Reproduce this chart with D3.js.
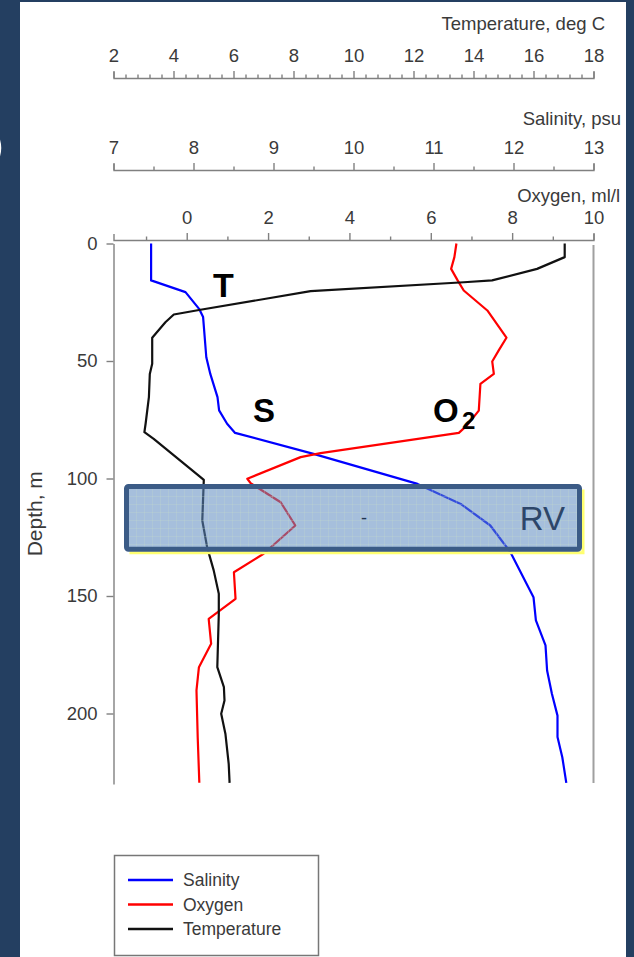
<!DOCTYPE html>
<html><head><meta charset="utf-8">
<script src="https://cdn.jsdelivr.net/npm/d3@7"></script>
<style>
html,body{margin:0;padding:0;background:#243f61;overflow:hidden;}
svg{display:block;}
text{font-family:"Liberation Sans",Arial,sans-serif;}
</style></head><body>
<svg id="chart" width="634" height="957"></svg>
<script>
// ---- data ----
const salDepth  = [0, 15.7, 20.7, 27.8, 31.3, 48.4, 55.5, 65.4, 71, 76.7, 80.6, 89.5, 102.3, 110.8, 120, 131.3, 150.5, 160.4, 171, 181.7, 191.6, 200.9, 210, 218.6, 229.5];
const salValues = [7.47, 7.47, 7.9, 8.07, 8.12, 8.16, 8.21, 8.30, 8.32, 8.42, 8.52, 9.50, 10.80, 11.34, 11.71, 11.96, 12.25, 12.28, 12.40, 12.42, 12.48, 12.55, 12.55, 12.61, 12.66];

const tempDepth  = [0, 5.8, 10.8, 15.7, 16.5, 20.3, 28.2, 30.2, 33.5, 40.1, 51.2, 55.5, 65.4, 76.7, 80.3, 83.1, 99.4, 100.6, 117.9, 129.2, 139.1, 149, 157.6, 180.3, 188.8, 194.5, 200.1, 208.6, 221.4, 229.5];
const tempValues = [17.04, 17.04, 16.12, 14.62, 13.68, 8.57, 4.9, 4.01, 3.73, 3.29, 3.29, 3.21, 3.18, 3.07, 3.03, 3.34, 4.9, 5.01, 4.96, 5.12, 5.34, 5.51, 5.51, 5.46, 5.68, 5.70, 5.59, 5.73, 5.84, 5.87];

const oxyDepth  = [0, 5.8, 10.8, 15.7, 20, 28.5, 40.1, 45.5, 50.2, 55.5, 59.7, 71.1, 77.4, 80.6, 89.2, 90.9, 100.1, 102, 110.1, 120, 132, 139.9, 151.2, 159.7, 170.3, 180.3, 190.2, 210.1, 229.5];
const oxyValues = [6.63, 6.58, 6.50, 6.66, 6.81, 7.39, 7.86, 7.67, 7.51, 7.55, 7.22, 7.18, 6.89, 6.69, 3.29, 2.8, 1.49, 1.57, 2.31, 2.67, 1.89, 1.16, 1.20, 0.54, 0.60, 0.30, 0.24, 0.27, 0.31];

const tempTicks  = [2, 4, 6, 8, 10, 12, 14, 16, 18];
const salTicks   = [7, 8, 9, 10, 11, 12, 13];
const oxyTicks   = [0, 2, 4, 6, 8, 10];
const depthTicks = [0, 50, 100, 150, 200];
const tempDomain = [2, 18];
const salDomain  = [7, 13];
const oxyDomain  = [-1.8, 10];
const depthDomain = [0, 230];
const seriesNames = ["Salinity", "Oxygen", "Temperature"];
const seriesColors = ["#0000ff", "#ff0000", "#111111"];
const rvDepth = [103.4, 130.1];

// ---- layout ----
const svg = d3.select("#chart");
const plotL = 113.5, plotR = 593.5;
const xT = d3.scaleLinear().domain(tempDomain).range([plotL, plotR]);
const xS = d3.scaleLinear().domain(salDomain).range([plotL, plotR]);
const xO = d3.scaleLinear().domain(oxyDomain).range([plotL, plotR]);
const y  = d3.scaleLinear().domain(depthDomain).range([243.5, 784]);
const axisColor = "#808080", labelColor = "#3a3a3a";
const fontTick = "18.5px";
const fmt = d3.format("~g");

// white panel
svg.append("rect").attr("x", 20).attr("y", 2).attr("width", 606).attr("height", 955).attr("fill", "#ffffff");
// sliver of a bracket glyph on the dark background (drawn as a shape)
svg.append("path").attr("d", "M-3,135 Q3,148 -3,161").attr("fill", "none")
  .attr("stroke", "#ffffff").attr("stroke-width", 2.5);

function topAxis(scale, yPos, majors, minors, title, titleX, titleY) {
  const g = svg.append("g").attr("transform", `translate(0,${yPos})`).attr("color", axisColor);
  g.call(d3.axisTop(scale).tickValues(majors).tickFormat(fmt).tickSize(7).tickSizeOuter(6).tickPadding(9.5));
  const gm = svg.append("g").attr("transform", `translate(0,${yPos})`).attr("color", axisColor);
  gm.call(d3.axisTop(scale).tickValues(minors).tickSize(3.5).tickFormat(""));
  gm.select(".domain").remove();
  svg.selectAll("g .domain, g .tick line").attr("stroke-width", 1.4);
  g.selectAll(".tick text").attr("fill", labelColor).style("font-size", fontTick)
    .style("font-family", '"Liberation Sans",Arial,sans-serif');
  svg.append("text").attr("x", titleX).attr("y", titleY).attr("text-anchor", "end")
    .attr("fill", labelColor).style("font-size", fontTick).text(title);
}
const tempMinor = d3.range(2, 18.001, 0.4).filter(v => Math.abs(v / 2 - Math.round(v / 2)) > 1e-6);
const salMinor = d3.range(7.5, 13, 1);
const oxyMinor = d3.range(-1, 10, 2);
topAxis(xT, 78, tempTicks, tempMinor, "Temperature, deg C", 605, 30);
topAxis(xS, 170, salTicks, salMinor, "Salinity, psu", 621, 125);
topAxis(xO, 240, oxyTicks, oxyMinor, "Oxygen, ml/l", 620, 202);

// depth axis
const gy = svg.append("g").attr("transform", `translate(${plotL},0)`).attr("color", axisColor);
gy.call(d3.axisLeft(y).tickValues(depthTicks).tickFormat(fmt).tickSize(7).tickSizeOuter(0).tickPadding(9));
gy.selectAll(".domain, .tick line").attr("stroke-width", 1.4);
gy.selectAll(".tick text").attr("fill", labelColor).style("font-size", fontTick)
  .style("font-family", '"Liberation Sans",Arial,sans-serif');
svg.append("text").attr("transform", `translate(42,${(y(0) + y(230)) / 2}) rotate(-90)`)
  .attr("text-anchor", "middle").attr("fill", labelColor).style("font-size", "21px").text("Depth, m");
// right frame
svg.append("line").attr("x1", plotR).attr("x2", plotR).attr("y1", y(0) + 1.5).attr("y2", y(230) - 1)
  .attr("stroke", "#a0a0a0").attr("stroke-width", 2);

// series
const lineGen = d3.line().x(d => d.x).y(d => d.y);
function drawSeries(depths, values, xs, color) {
  const pts = depths.map((d, i) => ({ x: xs(values[i]), y: y(d) }));
  svg.append("path").attr("d", lineGen(pts)).attr("fill", "none")
    .attr("stroke", color).attr("stroke-width", 2.2).attr("stroke-linejoin", "round");
}
drawSeries(salDepth, salValues, xS, seriesColors[0]);
drawSeries(oxyDepth, oxyValues, xO, seriesColors[1]);
drawSeries(tempDepth, tempValues, xT, seriesColors[2]);

// RV box
const defs = svg.append("defs");
const pat = defs.append("pattern").attr("id", "grid").attr("width", 8).attr("height", 8)
  .attr("patternUnits", "userSpaceOnUse");
pat.append("path").attr("d", "M8 0 L0 0 0 8").attr("fill", "none")
  .attr("stroke", "#c8dcc8").attr("stroke-width", 0.9).attr("opacity", 0.55);
const bx0 = plotL + 13, bx1 = plotR - 14, by0 = y(rvDepth[0]), by1 = y(rvDepth[1]);
svg.append("path").attr("d", `M${bx0 + 3},${by1 + 3.5} L${bx1 + 3.5},${by1 + 3.5} L${bx1 + 3.5},${by0 + 3}`)
  .attr("fill", "none").attr("stroke", "#ffff70").attr("stroke-width", 3);
svg.append("rect").attr("x", bx0).attr("y", by0).attr("width", bx1 - bx0).attr("height", by1 - by0)
  .attr("fill", "#5d8bbf").attr("fill-opacity", 0.55);
svg.append("rect").attr("x", bx0).attr("y", by0).attr("width", bx1 - bx0).attr("height", by1 - by0)
  .attr("fill", "url(#grid)");
svg.append("rect").attr("x", bx0).attr("y", by0).attr("width", bx1 - bx0).attr("height", by1 - by0)
  .attr("rx", 2).attr("fill", "none").attr("stroke", "#3b5b86").attr("stroke-width", 5);
svg.append("text").attr("x", bx1 - 14.5).attr("y", (by0 + by1) / 2 + 12.5).attr("text-anchor", "end")
  .attr("fill", "#2d4669").style("font-size", "33px").text("RV");
svg.append("text").attr("x", 364).attr("y", (by0 + by1) / 2 + 6).attr("text-anchor", "middle")
  .attr("fill", "#1f3550").style("font-size", "18px").text("-");

// curve labels
const lab = (x, yy, t, fs) => svg.append("text").attr("x", x).attr("y", yy)
  .attr("fill", "#000").style("font-size", fs).style("font-weight", "bold").text(t);
lab(213, 297, "T", "34px");
lab(253, 422, "S", "33px");
lab(433, 422, "O", "33px");
lab(462, 429, "2", "24px");

// legend
const lg = svg.append("g");
lg.append("rect").attr("x", 114.5).attr("y", 855.5).attr("width", 204).attr("height", 100)
  .attr("fill", "#fff").attr("stroke", "#777").attr("stroke-width", 1.5);
seriesNames.forEach((n, i) => {
  const yy = 880 + i * 24.5;
  lg.append("line").attr("x1", 128).attr("x2", 173).attr("y1", yy).attr("y2", yy)
    .attr("stroke", seriesColors[i]).attr("stroke-width", 2.5);
  lg.append("text").attr("x", 183).attr("y", yy).attr("dy", "0.35em").attr("fill", labelColor)
    .style("font-size", "17.5px").text(n);
});
</script>
</body></html>
